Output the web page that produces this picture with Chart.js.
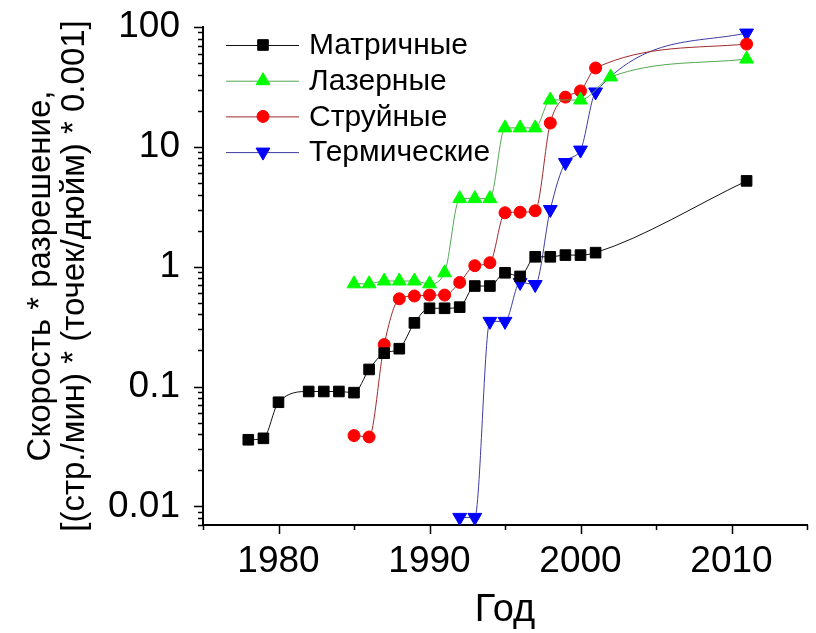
<!DOCTYPE html>
<html>
<head>
<meta charset="utf-8">
<script src="https://cdn.jsdelivr.net/npm/chart.js@4/dist/chart.umd.min.js"></script>
<style>
  html, body { margin: 0; padding: 0; background: #fff; }
  canvas { display: block; }
</style>
</head>
<body>
<canvas id="c" width="816" height="633"></canvas>
<script>
// данные (год, скорость * разрешение)
const matrYears = [1978, 1979, 1980, 1982, 1983, 1984, 1985, 1986, 1987, 1988, 1989, 1990, 1991, 1992, 1993, 1994, 1995, 1996, 1997, 1998, 1999, 2000, 2001, 2011];
const matrVals  = [0.036, 0.037, 0.074, 0.091, 0.091, 0.091, 0.089, 0.139, 0.19, 0.207, 0.34, 0.45, 0.45, 0.46, 0.69, 0.69, 0.89, 0.83, 1.21, 1.21, 1.25, 1.25, 1.31, 5.2];

const laserYears = [1985, 1986, 1987, 1988, 1989, 1990, 1991, 1992, 1993, 1994, 1995, 1996, 1997, 1998, 2000, 2002, 2011];
const laserVals  = [0.72, 0.72, 0.76, 0.76, 0.76, 0.72, 0.89, 3.7, 3.7, 3.7, 14.4, 14.4, 14.4, 24.6, 24.6, 38.3, 54];

const jetYears = [1985, 1986, 1987, 1988, 1989, 1990, 1991, 1992, 1993, 1994, 1995, 1996, 1997, 1998, 1999, 2000, 2001, 2011];
const jetVals  = [0.039, 0.038, 0.224, 0.54, 0.57, 0.58, 0.58, 0.74, 1.02, 1.08, 2.82, 2.85, 2.93, 15.8, 26, 29.3, 45.5, 72];

const thermYears = [1992, 1993, 1994, 1995, 1996, 1997, 1998, 1999, 2000, 2001, 2011];
const thermVals  = [0.0081, 0.0081, 0.35, 0.35, 0.74, 0.71, 3.0, 7.4, 9.4, 28.7, 89];

const yTickVals = [0.01, 0.1, 1, 10, 100];
const xTickVals = [1980, 1990, 2000, 2010];

const FONT = "'Liberation Sans', Arial, sans-serif";

const pts = (xs, ys) => xs.map((x, i) => ({ x: x, y: ys[i] }));

// засечки на осях (наружу), большие и малые
const axisTicks = {
  id: 'axisTicks',
  afterDraw(chart) {
    const ctx = chart.ctx;
    const xs = chart.scales.x, ys = chart.scales.y;
    const a = chart.chartArea;
    ctx.save();
    ctx.strokeStyle = '#000';
    ctx.lineWidth = 1.5;
    ctx.beginPath();
    for (let e = -3; e <= 2; e++) {
      for (let m = 1; m <= 9; m++) {
        const v = m * Math.pow(10, e);
        if (v < ys.min * 0.999 || v > ys.max * 1.001) continue;
        const y = Math.round(ys.getPixelForValue(v)) + 0.5;
        const len = m === 1 ? 9 : 5;
        ctx.moveTo(a.left, y);
        ctx.lineTo(a.left - len, y);
      }
    }
    for (let yr = 1975; yr <= 2015; yr += 5) {
      const x = Math.round(xs.getPixelForValue(yr)) + 0.5;
      const len = yr % 10 === 0 ? 9 : 5;
      ctx.moveTo(x, a.bottom);
      ctx.lineTo(x, a.bottom + len);
    }
    ctx.stroke();
    ctx.restore();
  }
};

// легенда в левом верхнем углу поля
const innerLegend = {
  id: 'innerLegend',
  afterDatasetsDraw(chart) {
    const ctx = chart.ctx;
    const a = chart.chartArea;
    const x0 = a.left + 23, x1 = a.left + 96, xm = a.left + 60, xt = a.left + 106;
    ctx.save();
    ctx.font = '30px ' + FONT;
    ctx.textBaseline = 'middle';
    chart.data.datasets.forEach((ds, i) => {
      const y = a.top + 18 + i * 35.7;
      ctx.strokeStyle = ds.borderColor;
      ctx.lineWidth = 1;
      ctx.beginPath();
      ctx.moveTo(x0, y + 0.5);
      ctx.lineTo(x1, y + 0.5);
      ctx.stroke();
      ctx.fillStyle = ds.pointBackgroundColor;
      ctx.strokeStyle = ds.pointBorderColor;
      Chart.helpers.drawPoint(ctx, {
        pointStyle: ds.pointStyle,
        rotation: ds.pointRotation || 0,
        radius: ds.pointRadius,
        borderWidth: 1
      }, xm, y);
      ctx.fillStyle = '#000';
      ctx.fillText(ds.label, xt, y + 1);
    });
    ctx.restore();
  }
};

const mk = (label, xs, ys, line, fill, style, r, rot) => ({
  label: label,
  data: pts(xs, ys),
  borderColor: line,
  borderWidth: 1,
  cubicInterpolationMode: 'monotone',
  pointStyle: style,
  pointRadius: r,
  pointRotation: rot || 0,
  pointBackgroundColor: fill,
  pointBorderColor: fill,
  pointBorderWidth: 1
});

new Chart(document.getElementById('c'), {
  type: 'line',
  data: {
    datasets: [
      mk('Матричные', matrYears, matrVals, '#111111', '#000000', 'rect', 7.5),
      mk('Лазерные', laserYears, laserVals, '#52a852', '#00ff00', 'triangle', 8),
      mk('Струйные', jetYears, jetVals, '#a02a2a', '#ff0000', 'circle', 6),
      mk('Термические', thermYears, thermVals, '#3c3ca2', '#0000ff', 'triangle', 8, 180)
    ]
  },
  options: {
    responsive: false,
    animation: false,
    devicePixelRatio: 1,
    layout: { padding: { left: 0, top: 27, right: 3, bottom: 0 } },
    plugins: {
      legend: { display: false },
      tooltip: { enabled: false }
    },
    scales: {
      x: {
        type: 'linear',
        min: 1975,
        max: 2015,
        grid: { display: false },
        border: { display: true, color: '#000', width: 2 },
        afterBuildTicks: (s) => { s.ticks = xTickVals.map(v => ({ value: v })); },
        afterFit: (s) => { s.height = 108; s.paddingLeft = 0; s.paddingRight = 0; },
        ticks: {
          color: '#000',
          padding: 7,
          font: { family: FONT, size: 37 },
          callback: (v) => String(v)
        },
        title: {
          display: true,
          text: 'Год',
          color: '#000',
          padding: 0,
          font: { family: FONT, size: 38 }
        }
      },
      y: {
        type: 'logarithmic',
        min: 0.007,
        max: 100,
        grid: { display: false },
        border: { display: true, color: '#000', width: 2 },
        afterBuildTicks: (s) => { s.ticks = yTickVals.map(v => ({ value: v })); },
        afterFit: (s) => { s.width = 203; s.paddingTop = 0; s.paddingBottom = 0; },
        ticks: {
          color: '#000',
          padding: 15,
          font: { family: FONT, size: 37 },
          callback: (v) => String(v)
        },
        title: {
          display: true,
          text: ['Скорость * разрешение,', '[(стр./мин) * (точек/дюйм) * 0.001]'],
          color: '#000',
          padding: { top: 24, bottom: 0 },
          font: { family: FONT, size: 33, lineHeight: 1.03 }
        }
      }
    }
  },
  plugins: [axisTicks, innerLegend]
});
</script>
</body>
</html>
